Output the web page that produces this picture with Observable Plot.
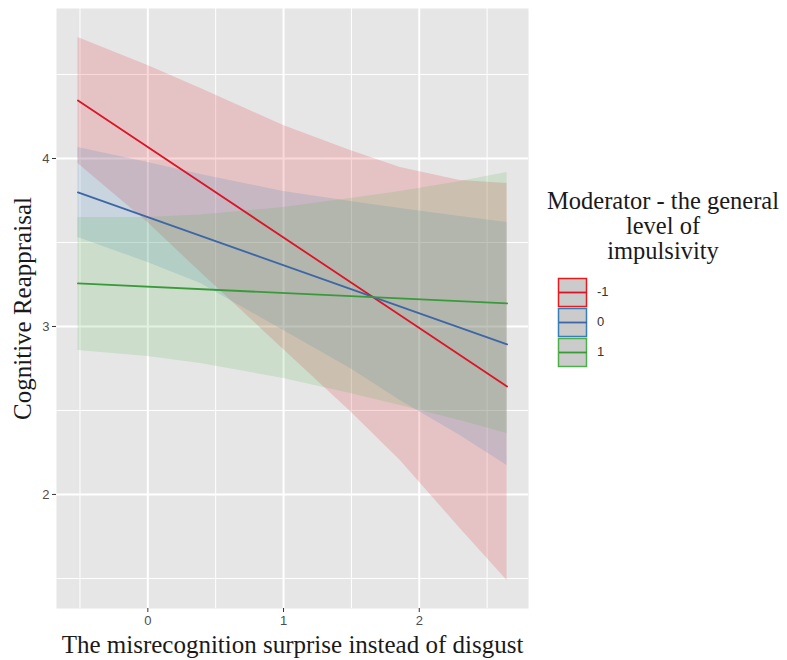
<!DOCTYPE html>
<html>
<head>
<meta charset="utf-8">
<script src="https://cdn.jsdelivr.net/npm/d3@7"></script>
<script src="https://cdn.jsdelivr.net/npm/@observablehq/plot@0.6"></script>
<style>
  body { margin: 0; background: #ffffff; }
  #wrap { position: relative; width: 787px; height: 660px; }
  .ltitle { position: absolute; left: 536px; top: 188px; width: 254px; text-align: center;
            font-family: "Liberation Serif", "DejaVu Serif", serif; font-size: 24.5px; line-height: 25px; color: #1a1a1a; }
  .lkey { position: absolute; font-family: "Liberation Sans", Arial, sans-serif; font-size: 13px; color: #333; }
</style>
</head>
<body>
<div id="wrap"></div>
<script>
// ---- data ----
const groups = ["-1", "0", "1"];
const lineColors = ["#dc1428", "#3d66a6", "#3a9a3a"];
const fillColors = ["#e41a1c", "#377eb8", "#4daf4a"];

const xLine = [-0.515, 2.647];
const redLine = [4.345, 2.643];
const blueLine = [3.798, 2.893];
const greenLine = [3.256, 3.137];

const xBand = [-0.515, 0, 0.39, 1.0, 1.493, 1.86, 2.301, 2.647];
const redUpper = [4.720, 4.554, 4.417, 4.196, 4.048, 3.946, 3.869, 3.851];
const redLower = [3.970, 3.619, 3.321, 2.863, 2.494, 2.202, 1.798, 1.488];
const blueUpper = [4.065, 3.976, 3.905, 3.804, 3.744, 3.702, 3.655, 3.619];
const blueLower = [3.530, 3.381, 3.256, 2.976, 2.750, 2.560, 2.351, 2.173];
const greenUpper = [3.649, 3.649, 3.664, 3.708, 3.762, 3.804, 3.863, 3.917];
const greenLower = [2.857, 2.821, 2.780, 2.690, 2.601, 2.530, 2.440, 2.363];

const xTicks = [0, 1, 2];
const xMinor = [-0.5, 0.5, 1.5, 2.5];
const yTicks = [2, 3, 4];
const yMinor = [1.5, 2.5, 3.5, 4.5];

const xTitle = "The misrecognition surprise instead of disgust";
const yTitle = "Cognitive Reappraisal";
const legendTitle = ["Moderator - the general", "level of", "impulsivity"];

// ---- build tables ----
const bandSets = [[redLower, redUpper], [blueLower, blueUpper], [greenLower, greenUpper]];
const bands = [];
groups.forEach((g, i) => xBand.forEach((x, j) => bands.push({x, lo: bandSets[i][0][j], hi: bandSets[i][1][j], g})));
const lineSets = [redLine, blueLine, greenLine];
const lines = [];
groups.forEach((g, i) => xLine.forEach((x, j) => lines.push({x, y: lineSets[i][j], g})));

const serif = "Liberation Serif, DejaVu Serif, serif";
const sans = "Liberation Sans, Arial, sans-serif";

const chart = Plot.plot({
  width: 787, height: 660,
  marginLeft: 56, marginRight: 259, marginTop: 8, marginBottom: 52,
  style: {fontFamily: sans, color: "#4d4d4d", background: "transparent"},
  x: {domain: [-0.673, 2.805]},
  y: {domain: [1.321, 4.893]},
  color: {domain: groups, range: fillColors},
  marks: [
    Plot.frame({fill: "#e6e6e6", stroke: null}),
    Plot.ruleX(xMinor, {stroke: "#ffffff", strokeWidth: 1}),
    Plot.ruleY(yMinor, {stroke: "#ffffff", strokeWidth: 1}),
    Plot.ruleX(xTicks, {stroke: "#ffffff", strokeWidth: 2}),
    Plot.ruleY(yTicks, {stroke: "#ffffff", strokeWidth: 2}),
    Plot.areaY(bands, {x: "x", y1: "lo", y2: "hi", z: "g", fill: "g", fillOpacity: 0.17}),
    Plot.line(lines, {x: "x", y: "y", z: "g", stroke: d => lineColors[groups.indexOf(d.g)], strokeWidth: 1.8}),
    Plot.axisX(xTicks, {tickSize: 4, tickPadding: 3, fontSize: 13, label: null, stroke: "#333", tickFormat: d3.format("d")}),
    Plot.axisY(yTicks, {tickSize: 4, tickPadding: 3, fontSize: 13, label: null, stroke: "#333", tickFormat: d3.format("d")}),
    Plot.text([xTitle], {frameAnchor: "bottom", dy: 36, fontSize: 25, fontFamily: serif, fill: "#1a1a1a", textAnchor: "middle", lineAnchor: "middle"}),
    Plot.text([yTitle], {frameAnchor: "left", dx: -34, rotate: -90, fontSize: 25, fontFamily: serif, fill: "#1a1a1a", textAnchor: "middle", lineAnchor: "middle"})
  ]
});

const wrap = document.getElementById("wrap");
wrap.appendChild(chart);

// ---- legend (HTML overlay in the right margin) ----
const lt = document.createElement("div");
lt.className = "ltitle";
lt.innerHTML = legendTitle.join("<br>");
wrap.appendChild(lt);

const ns = "http://www.w3.org/2000/svg";
const ksvg = document.createElementNS(ns, "svg");
ksvg.setAttribute("width", 787); ksvg.setAttribute("height", 660);
ksvg.style.position = "absolute"; ksvg.style.left = "0px"; ksvg.style.top = "0px";
groups.forEach((g, i) => {
  const y0 = 278 + i * 30;
  const r = document.createElementNS(ns, "rect");
  r.setAttribute("x", 558.5); r.setAttribute("y", y0 + 0.5);
  r.setAttribute("width", 28); r.setAttribute("height", 28);
  r.setAttribute("fill", "#cbcbcb"); r.setAttribute("stroke", fillColors[i]); r.setAttribute("stroke-width", 1.5);
  ksvg.appendChild(r);
  const l = document.createElementNS(ns, "line");
  l.setAttribute("x1", 559); l.setAttribute("x2", 587);
  l.setAttribute("y1", y0 + 14.5); l.setAttribute("y2", y0 + 14.5);
  l.setAttribute("stroke", lineColors[i]); l.setAttribute("stroke-width", 1.8);
  ksvg.appendChild(l);
});
wrap.appendChild(ksvg);
groups.forEach((g, i) => {
  const t = document.createElement("div");
  t.className = "lkey";
  t.textContent = g;
  t.style.left = "597px";
  t.style.top = (278 + i * 30 + 6) + "px";
  wrap.appendChild(t);
});
</script>
</body>
</html>
